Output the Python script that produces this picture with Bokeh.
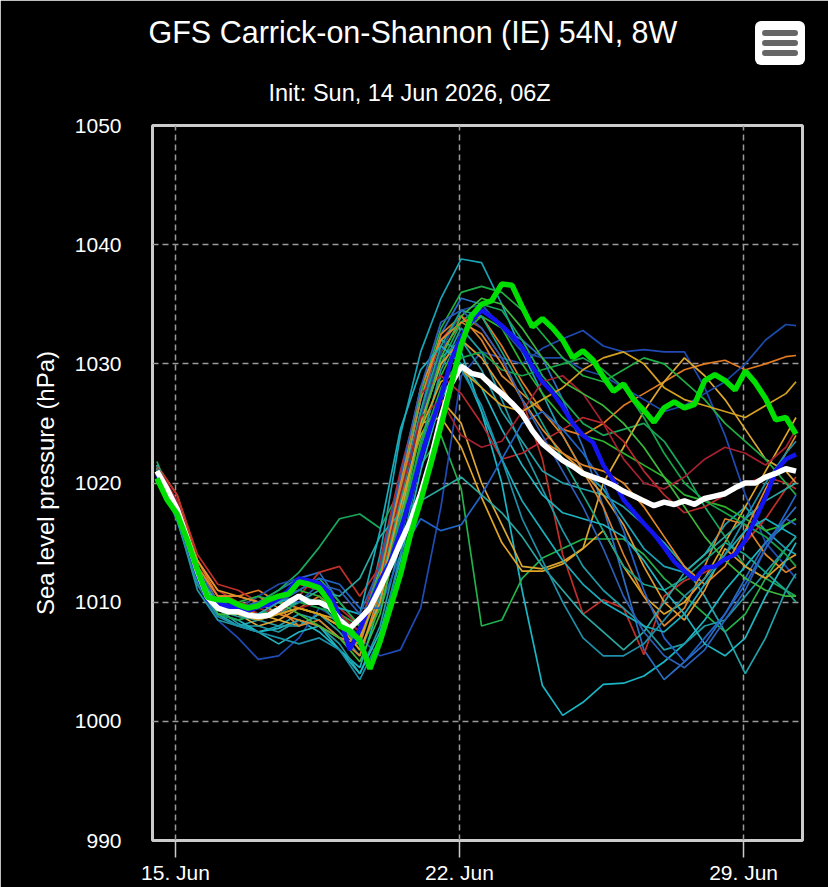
import pandas as pd
from bokeh.plotting import figure
from bokeh.layouts import column
from bokeh.models import Range1d, FixedTicker, DatetimeTickFormatter, Title, Div
from bokeh.embed import file_html
from bokeh.resources import INLINE

# ---------------- data (hPa) ----------------
# thick series: 6-hourly from 14 Jun 13:00 (64 points)
mean_pressure = [1021.0, 1019.5, 1017.8, 1015.3, 1012.6, 1010.4, 1009.5, 1009.2, 1009.2, 1008.9,
                 1008.8, 1008.9, 1009.4, 1010.0, 1010.5, 1010.0, 1010.0, 1009.6, 1008.5, 1007.8,
                 1008.6, 1009.5, 1011.2, 1013.0, 1015.0, 1016.8, 1019.1, 1022.0, 1025.5, 1028.3,
                 1029.8, 1029.2, 1029.0, 1028.2, 1027.5, 1026.7, 1025.8, 1024.4, 1023.3, 1022.6,
                 1021.9, 1021.4, 1020.8, 1020.5, 1020.2, 1019.8, 1019.3, 1018.9, 1018.5, 1018.1,
                 1018.4, 1018.2, 1018.5, 1018.2, 1018.7, 1018.9, 1019.1, 1019.6, 1020.0, 1020.0,
                 1020.5, 1020.8, 1021.2, 1021.0]
oper_pressure = [1020.4, 1018.6, 1017.4, 1015.2, 1012.7, 1010.4, 1010.2, 1010.2, 1009.8, 1009.5,
                 1009.7, 1010.2, 1010.5, 1010.7, 1011.7, 1011.5, 1011.2, 1010.0, 1008.0, 1007.6,
                 1006.8, 1004.4, 1006.7, 1009.5, 1012.3, 1015.7, 1018.5, 1021.6, 1024.8, 1028.2,
                 1031.6, 1034.0, 1035.0, 1035.3, 1036.7, 1036.6, 1034.8, 1033.1, 1033.8, 1033.0,
                 1032.0, 1030.5, 1031.1, 1030.3, 1028.9, 1027.7, 1028.3, 1027.0, 1026.1, 1025.1,
                 1026.3, 1026.8, 1026.3, 1026.6, 1028.6, 1029.1, 1028.6, 1027.8, 1029.4, 1028.4,
                 1027.1, 1025.3, 1025.5, 1024.1]
ctrl_pressure = [1020.8, 1019.0, 1017.5, 1015.0, 1012.3, 1010.2, 1009.8, 1009.7, 1009.5, 1009.3,
                 1009.6, 1009.8, 1010.3, 1011.0, 1012.0, 1011.8, 1011.6, 1010.8, 1008.8, 1006.0,
                 1007.7, 1009.8, 1011.8, 1013.4, 1016.0, 1018.8, 1022.1, 1024.8, 1027.2, 1030.3,
                 1032.3, 1033.6, 1034.5, 1033.9, 1033.2, 1032.4, 1031.4, 1029.8, 1028.5, 1027.6,
                 1026.4, 1025.0, 1024.0, 1023.4, 1021.5, 1020.2, 1018.6, 1017.6, 1016.6, 1015.7,
                 1014.6, 1013.4, 1012.6, 1011.9, 1012.9, 1013.0, 1013.6, 1014.0, 1015.2, 1017.0,
                 1018.8, 1021.0, 1022.0, 1022.4]

# ensemble members: 12-hourly from 14 Jun 13:00, plus final 30 Jun 07:00 (33 points)
member_01 = [1021.2, 1018.0, 1012.8, 1009.5, 1008.2, 1007.5, 1008.0, 1009.0, 1008.5, 1007.0, 1006.5, 1014.0, 1024.0, 1031.0, 1035.5, 1038.8, 1038.5, 1035.0, 1031.0, 1027.5, 1024.0, 1021.0, 1019.5, 1017.0, 1014.5, 1013.0, 1012.5, 1014.0, 1016.5, 1018.0, 1016.0, 1014.5, 1014.0]
member_02 = [1021.5, 1017.5, 1012.0, 1009.0, 1008.0, 1007.5, 1007.8, 1008.5, 1007.5, 1006.0, 1004.5, 1010.0, 1019.0, 1027.0, 1032.0, 1031.0, 1026.0, 1020.0, 1011.0, 1003.0, 1000.5, 1001.6, 1003.1, 1003.2, 1003.8, 1005.0, 1006.5, 1008.5, 1011.0, 1013.0, 1015.0, 1016.5, 1017.0]
member_03 = [1021.0, 1017.0, 1011.5, 1009.0, 1008.5, 1009.0, 1009.5, 1010.5, 1010.0, 1009.0, 1008.0, 1012.0, 1017.5, 1021.5, 1024.0, 1019.5, 1008.0, 1008.5, 1012.0, 1013.7, 1014.5, 1015.3, 1015.3, 1015.3, 1014.0, 1012.0, 1010.5, 1009.0, 1007.5, 1009.0, 1012.0, 1014.5, 1015.5]
member_04 = [1021.0, 1017.5, 1012.5, 1010.0, 1009.5, 1009.0, 1008.5, 1008.0, 1009.0, 1008.5, 1007.0, 1013.0, 1020.0, 1025.0, 1025.5, 1023.0, 1018.8, 1015.0, 1012.6, 1012.6, 1013.2, 1014.5, 1016.0, 1013.0, 1010.5, 1009.0, 1010.0, 1012.0, 1015.0, 1018.0, 1021.0, 1024.0, 1025.5]
member_05 = [1021.0, 1017.0, 1011.5, 1008.5, 1007.0, 1005.2, 1005.5, 1007.0, 1009.5, 1008.5, 1007.0, 1005.5, 1006.0, 1009.5, 1018.0, 1029.0, 1031.0, 1030.5, 1030.0, 1031.3, 1032.1, 1032.8, 1031.5, 1031.0, 1031.2, 1031.0, 1031.0, 1028.0, 1024.0, 1019.0, 1015.0, 1013.0, 1012.0]
member_06 = [1021.3, 1018.0, 1013.0, 1010.0, 1009.5, 1010.0, 1011.0, 1012.0, 1012.5, 1010.0, 1008.0, 1012.5, 1019.0, 1026.0, 1032.5, 1035.5, 1035.0, 1033.0, 1032.0, 1030.5, 1027.0, 1023.0, 1018.0, 1012.0, 1006.0, 1003.5, 1005.0, 1006.5, 1009.0, 1012.0, 1015.0, 1017.0, 1018.0]
member_07 = [1021.5, 1019.0, 1013.5, 1010.5, 1010.5, 1011.0, 1010.0, 1009.5, 1010.5, 1009.0, 1007.5, 1011.0, 1018.0, 1025.5, 1031.0, 1033.5, 1034.0, 1031.5, 1028.5, 1026.0, 1024.5, 1024.0, 1025.0, 1026.5, 1027.5, 1028.5, 1029.5, 1030.0, 1030.3, 1029.5, 1030.0, 1030.6, 1030.7]
member_08 = [1021.5, 1019.0, 1014.0, 1011.5, 1011.0, 1010.0, 1009.0, 1010.5, 1012.5, 1013.0, 1010.5, 1013.0, 1020.0, 1027.0, 1032.0, 1034.0, 1033.0, 1030.5, 1027.0, 1022.0, 1014.0, 1009.0, 1010.2, 1009.5, 1005.6, 1010.5, 1011.8, 1012.5, 1013.5, 1015.0, 1017.0, 1019.5, 1020.5]
member_09 = [1021.8, 1017.5, 1012.5, 1010.0, 1009.5, 1010.0, 1011.0, 1012.5, 1014.6, 1017.0, 1017.4, 1016.2, 1019.5, 1025.0, 1030.0, 1033.5, 1035.0, 1034.5, 1032.0, 1029.0, 1027.0, 1025.0, 1024.0, 1024.5, 1025.0, 1023.5, 1021.0, 1018.0, 1015.5, 1013.0, 1012.0, 1011.0, 1010.5]
member_10 = [1020.8, 1017.0, 1012.0, 1009.0, 1008.0, 1008.5, 1008.0, 1008.0, 1009.0, 1007.5, 1005.5, 1010.5, 1017.5, 1025.0, 1030.5, 1032.0, 1029.5, 1026.0, 1023.5, 1021.0, 1020.0, 1019.5, 1019.0, 1018.0, 1016.5, 1015.0, 1013.0, 1010.5, 1007.5, 1004.0, 1007.0, 1011.0, 1012.4]
member_11 = [1021.0, 1017.0, 1012.0, 1010.0, 1009.0, 1008.0, 1008.5, 1009.5, 1009.0, 1008.0, 1007.0, 1011.5, 1018.5, 1024.0, 1027.0, 1025.0, 1020.0, 1016.5, 1013.0, 1012.8, 1013.4, 1014.5, 1020.0, 1023.0, 1026.0, 1028.5, 1030.5, 1029.0, 1027.0, 1024.5, 1022.0, 1021.0, 1020.0]
member_12 = [1021.0, 1017.5, 1012.0, 1009.5, 1009.0, 1009.5, 1010.5, 1011.0, 1010.5, 1008.5, 1006.0, 1009.5, 1016.0, 1023.5, 1029.0, 1032.5, 1034.0, 1033.0, 1030.0, 1027.5, 1025.5, 1024.0, 1023.5, 1022.5, 1021.5, 1020.5, 1019.0, 1018.5, 1018.0, 1017.0, 1016.0, 1016.5, 1017.0]
member_13 = [1021.2, 1018.0, 1013.0, 1010.0, 1009.5, 1010.5, 1009.5, 1008.0, 1008.5, 1007.0, 1005.5, 1011.0, 1019.5, 1027.0, 1032.5, 1034.0, 1032.0, 1029.0, 1027.5, 1026.0, 1024.0, 1021.0, 1018.0, 1014.0, 1010.5, 1008.0, 1009.5, 1013.0, 1017.0, 1016.5, 1014.0, 1012.5, 1013.0]
member_14 = [1021.0, 1017.0, 1011.0, 1008.5, 1008.0, 1008.0, 1007.5, 1008.5, 1008.0, 1006.5, 1004.0, 1008.0, 1015.0, 1023.0, 1029.5, 1033.0, 1031.0, 1027.0, 1023.0, 1019.5, 1016.0, 1013.0, 1011.0, 1009.5, 1008.0, 1006.0, 1006.5, 1008.0, 1008.5, 1010.5, 1012.5, 1014.5, 1015.5]
member_15 = [1021.3, 1018.5, 1013.5, 1011.0, 1010.0, 1009.0, 1010.0, 1011.5, 1011.0, 1009.5, 1008.0, 1013.5, 1021.0, 1027.5, 1029.0, 1027.5, 1025.0, 1022.0, 1022.5, 1023.5, 1024.5, 1025.5, 1025.0, 1023.5, 1021.0, 1019.0, 1017.5, 1018.0, 1019.0, 1020.0, 1020.5, 1020.0, 1019.5]
member_16 = [1021.0, 1017.5, 1012.0, 1009.5, 1009.5, 1010.5, 1011.5, 1012.0, 1011.0, 1008.5, 1007.0, 1011.0, 1018.0, 1025.5, 1031.0, 1034.5, 1035.0, 1033.0, 1031.0, 1030.5, 1030.5, 1029.5, 1029.0, 1028.0, 1027.0, 1026.0, 1026.5, 1027.5, 1028.5, 1030.0, 1032.0, 1033.3, 1033.2]
member_17 = [1021.5, 1018.0, 1012.5, 1009.5, 1009.0, 1008.5, 1009.0, 1010.0, 1010.0, 1008.0, 1006.5, 1011.5, 1018.5, 1026.0, 1031.5, 1034.5, 1034.0, 1031.0, 1028.0, 1025.0, 1022.0, 1019.0, 1016.0, 1013.0, 1011.5, 1011.0, 1012.0, 1013.5, 1015.0, 1014.0, 1012.5, 1011.0, 1010.0]
member_18 = [1021.0, 1017.5, 1012.5, 1010.0, 1010.0, 1010.5, 1010.0, 1011.0, 1012.0, 1010.0, 1008.0, 1012.5, 1020.0, 1027.5, 1033.0, 1036.0, 1036.5, 1036.0, 1034.5, 1032.5, 1030.5, 1029.0, 1028.5, 1029.5, 1030.5, 1030.0, 1028.5, 1027.0, 1025.0, 1023.5, 1022.0, 1020.0, 1019.0]
member_19 = [1021.2, 1018.0, 1013.5, 1011.0, 1010.5, 1010.0, 1009.0, 1009.5, 1009.0, 1008.0, 1006.0, 1010.0, 1017.0, 1025.0, 1030.0, 1032.0, 1030.5, 1028.0, 1025.5, 1023.5, 1022.5, 1021.0, 1019.0, 1016.5, 1013.0, 1010.0, 1008.5, 1011.0, 1014.5, 1013.0, 1012.0, 1013.5, 1014.0]
member_20 = [1021.5, 1017.5, 1012.5, 1009.0, 1008.5, 1007.5, 1006.5, 1007.5, 1008.0, 1006.0, 1004.0, 1007.5, 1013.5, 1021.0, 1027.0, 1030.0, 1028.0, 1024.5, 1021.5, 1019.0, 1017.5, 1017.0, 1016.5, 1015.5, 1013.5, 1011.0, 1009.0, 1006.5, 1005.5, 1007.0, 1010.5, 1013.5, 1015.0]
member_21 = [1020.7, 1017.0, 1011.5, 1009.0, 1008.5, 1009.0, 1009.5, 1010.0, 1009.5, 1009.0, 1007.0, 1011.0, 1017.0, 1023.0, 1028.0, 1030.5, 1031.0, 1029.5, 1029.0, 1029.5, 1030.0, 1030.5, 1029.5, 1028.0, 1025.5, 1022.5, 1020.0, 1018.5, 1017.5, 1016.5, 1015.5, 1014.0, 1013.0]
member_22 = [1021.0, 1017.5, 1012.0, 1009.5, 1009.5, 1009.5, 1010.0, 1011.0, 1012.0, 1011.5, 1009.5, 1009.5, 1014.0, 1017.0, 1016.0, 1016.5, 1019.0, 1022.0, 1025.0, 1026.0, 1024.5, 1022.5, 1020.0, 1016.0, 1011.0, 1007.0, 1005.0, 1007.0, 1009.0, 1011.5, 1014.5, 1017.5, 1019.0]
member_23 = [1021.4, 1018.5, 1013.0, 1010.5, 1010.0, 1009.5, 1009.0, 1009.5, 1010.0, 1009.0, 1007.5, 1012.0, 1019.0, 1025.5, 1027.0, 1024.0, 1023.0, 1023.5, 1026.0, 1028.5, 1029.0, 1027.5, 1025.0, 1022.0, 1020.0, 1019.5, 1020.5, 1022.0, 1023.0, 1022.5, 1021.5, 1023.0, 1024.5]
member_24 = [1021.1, 1017.2, 1011.8, 1009.3, 1008.8, 1008.5, 1009.5, 1010.0, 1011.0, 1010.5, 1012.0, 1015.5, 1017.5, 1018.5, 1019.5, 1020.5, 1019.0, 1017.5, 1015.5, 1013.0, 1011.0, 1009.0, 1007.5, 1006.0, 1007.5, 1010.0, 1012.5, 1014.0, 1015.5, 1017.0, 1018.5, 1019.5, 1020.0]
member_25 = [1021.0, 1017.8, 1013.0, 1010.5, 1010.5, 1010.0, 1009.0, 1008.5, 1008.0, 1007.0, 1006.5, 1012.0, 1020.0, 1028.0, 1032.0, 1033.5, 1032.5, 1030.0, 1027.0, 1024.5, 1022.5, 1021.5, 1021.0, 1020.0, 1018.0, 1015.5, 1013.0, 1011.5, 1013.0, 1016.0, 1019.5, 1022.5, 1024.0]
member_26 = [1021.3, 1017.0, 1012.0, 1009.0, 1009.0, 1009.5, 1010.0, 1009.0, 1008.0, 1007.0, 1005.0, 1009.0, 1016.5, 1024.5, 1030.5, 1034.0, 1035.5, 1035.0, 1033.0, 1030.5, 1028.5, 1027.5, 1026.5, 1025.0, 1023.0, 1020.5, 1018.0, 1015.5, 1013.5, 1012.0, 1011.0, 1010.5, 1010.5]
member_27 = [1021.0, 1017.5, 1012.5, 1009.5, 1009.0, 1009.0, 1010.0, 1010.5, 1010.0, 1009.5, 1009.0, 1016.0, 1024.5, 1029.5, 1031.5, 1030.0, 1026.0, 1022.0, 1018.5, 1016.0, 1013.5, 1011.5, 1010.0, 1009.0, 1008.0, 1007.5, 1009.0, 1011.5, 1014.0, 1016.0, 1017.0, 1016.0, 1015.5]
member_28 = [1021.2, 1017.8, 1012.8, 1010.0, 1009.5, 1010.0, 1010.5, 1010.0, 1011.5, 1011.0, 1009.0, 1013.0, 1020.5, 1028.0, 1033.5, 1034.5, 1033.0, 1030.5, 1027.0, 1024.0, 1021.0, 1018.0, 1014.5, 1010.5, 1007.5, 1005.5, 1004.5, 1006.0, 1008.5, 1011.0, 1014.5, 1017.0, 1016.5]
member_29 = [1021.0, 1017.0, 1012.0, 1009.5, 1009.0, 1008.5, 1009.0, 1009.5, 1009.0, 1008.0, 1007.0, 1011.0, 1018.0, 1024.5, 1028.5, 1029.5, 1028.0, 1026.5, 1026.0, 1027.0, 1028.0, 1029.5, 1030.5, 1031.0, 1030.0, 1028.0, 1027.0, 1026.5, 1026.0, 1025.5, 1026.5, 1027.5, 1028.5]
member_30 = [1020.9, 1016.8, 1011.5, 1008.8, 1008.0, 1007.5, 1007.0, 1006.5, 1007.0, 1006.0, 1003.5, 1007.0, 1014.0, 1022.0, 1027.5, 1029.5, 1026.5, 1022.0, 1017.0, 1013.5, 1010.0, 1007.0, 1005.5, 1005.5, 1006.5, 1008.5, 1010.5, 1012.0, 1014.0, 1017.0, 1020.0, 1022.5, 1023.5]

member_colors = ["#1aa3b6", "#19b6c6", "#22b14c", "#e0a526", "#1f4bb5", "#2a6fc4", "#e07b22", "#c0302a",
                 "#19a85a", "#23a0a8", "#dba632", "#2cb52c", "#d9822b", "#1f9aa5", "#b8282e", "#1d49a8",
                 "#17a589", "#1fae45", "#e39a2c", "#20b5c2", "#16a34a", "#2064c8", "#a52030", "#2aa7a0",
                 "#e2882a", "#3cb83c", "#19aebd", "#2b5fb8", "#d4a020", "#1e8fa8"]

tick_dates = ["2026-06-15", "2026-06-22", "2026-06-29"]
y_ticks = [990, 1000, 1010, 1020, 1030, 1040, 1050]

title_text = "GFS Carrick-on-Shannon (IE) 54N, 8W"
subtitle_text = "Init: Sun, 14 Jun 2026, 06Z"
y_label = "Sea level pressure (hPa)"

# ---------------- build ----------------
t0 = pd.Timestamp("2026-06-14 13:00")
thick_times = pd.date_range(t0, periods=64, freq="6h")
member_times = list(pd.date_range(t0, periods=32, freq="12h")) + [thick_times[-1]]

members = [member_01, member_02, member_03, member_04, member_05, member_06, member_07, member_08,
           member_09, member_10, member_11, member_12, member_13, member_14, member_15, member_16,
           member_17, member_18, member_19, member_20, member_21, member_22, member_23, member_24,
           member_25, member_26, member_27, member_28, member_29, member_30]

FONT = "Liberation Sans"

p = figure(width=828, height=887, x_axis_type="datetime",
           output_backend="svg", toolbar_location=None,
           x_range=Range1d(pd.Timestamp("2026-06-14 10:24"), pd.Timestamp("2026-06-30 10:50")),
           y_range=Range1d(990, 1050),
           min_border_left=152, min_border_right=26, min_border_top=125, min_border_bottom=47)

p.background_fill_color = "black"
p.border_fill_color = "black"
p.outline_line_color = "#cccccc"
p.outline_line_width = 3

for vals, col in zip(members, member_colors):
    p.line(member_times, vals, line_color=col, line_width=1.7)

p.line(thick_times, ctrl_pressure, line_color="#1414f0", line_width=4.5)
p.line(thick_times, mean_pressure, line_color="#ffffff", line_width=5.5)
p.line(thick_times, oper_pressure, line_color="#00e000", line_width=5.5)

xt = [pd.Timestamp(d).value / 1e6 for d in tick_dates]
p.xaxis.ticker = FixedTicker(ticks=xt)
fmt = "%d. %b"
p.xaxis.formatter = DatetimeTickFormatter(days=fmt, months=fmt, hours=fmt, hourmin=fmt,
                                          minutes=fmt, years=fmt)
p.yaxis.ticker = FixedTicker(ticks=y_ticks)

for g in (p.xgrid, p.ygrid):
    g.grid_line_color = "#9a9a9a"
    g.grid_line_dash = "6 4"
    g.grid_line_width = 1.5

p.xaxis.axis_line_color = None
p.xaxis.major_tick_out = 17
p.xaxis.major_tick_in = 0
p.xaxis.major_tick_line_color = "#cccccc"
p.xaxis.major_tick_line_width = 1.5
p.xaxis.minor_tick_line_color = None
p.xaxis.major_label_standoff = 3

p.yaxis.axis_line_color = None
p.yaxis.major_tick_line_color = None
p.yaxis.major_tick_out = 0
p.yaxis.major_tick_in = 0
p.yaxis.minor_tick_line_color = None
p.yaxis.major_label_standoff = 31
p.yaxis.axis_label = y_label
p.yaxis.axis_label_text_font = FONT
p.yaxis.axis_label_text_font_size = "24px"
p.yaxis.axis_label_text_font_style = "normal"
p.yaxis.axis_label_text_color = "white"
p.yaxis.axis_label_standoff = 13

for ax in (p.xaxis, p.yaxis):
    ax.major_label_text_color = "white"
    ax.major_label_text_font = FONT
    ax.major_label_text_font_size = "21px"

# titles (first added sits closest to the frame)
p.add_layout(Title(text=subtitle_text, align="left", offset=116, standoff=40,
                   text_color="white", text_font=FONT, text_font_size="23.5px",
                   text_font_style="normal"), "above")
p.add_layout(Title(text=title_text, align="left", offset=-4, standoff=18,
                   text_color="white", text_font=FONT, text_font_size="30.5px",
                   text_font_style="normal"), "above")

# export-menu button overlaid at the top right
bar = "position:absolute;left:7px;width:36px;height:6px;background:#666666;border-radius:3px;"
menu_html = ('<div style="position:relative;width:0;height:0;">'
             '<div style="position:absolute;left:750px;top:-883px;width:50px;height:44px;'
             'background:#ffffff;border-radius:6px;">'
             f'<div style="{bar}top:9px;"></div>'
             f'<div style="{bar}top:19px;"></div>'
             f'<div style="{bar}top:29px;"></div>'
             '</div></div>')
menu = Div(text=menu_html, width=828, height=0, styles={"overflow": "visible"})

layout = column(p, menu, spacing=0)
open("out.html", "w").write(file_html(layout, INLINE))
